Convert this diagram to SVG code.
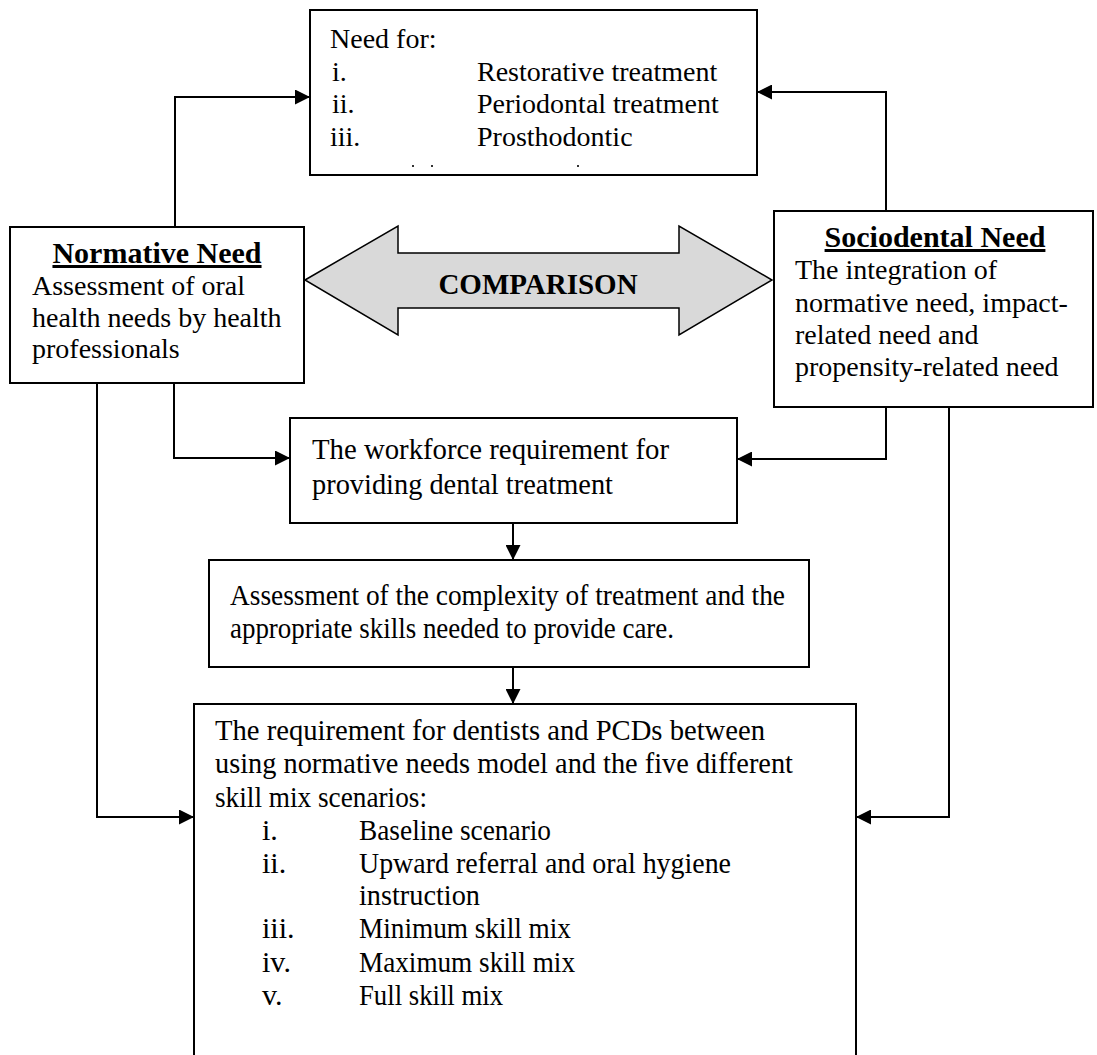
<svg xmlns="http://www.w3.org/2000/svg" width="1097" height="1055" viewBox="0 0 1097 1055">
  <style>
    .box { fill: #ffffff; stroke: #000000; stroke-width: 2; }
    .link { fill: none; stroke: #000000; stroke-width: 2; }
    .t { font-family: "Liberation Serif", "Times New Roman", serif; font-size: 28px; fill: #000000; }
    .h { font-family: "Liberation Serif", "Times New Roman", serif; font-size: 30px; font-weight: bold; fill: #000000; text-decoration: underline; }
    .c { font-family: "Liberation Serif", "Times New Roman", serif; font-size: 30px; fill: #000000; }
    .big { font-family: "Liberation Serif", "Times New Roman", serif; font-size: 29px; font-weight: bold; fill: #000000; }
  </style>
  <defs>
    <marker id="head" markerUnits="userSpaceOnUse" markerWidth="15" markerHeight="15" refX="15" refY="7.5" orient="auto">
      <path d="M0,0 L15,7.5 L0,15 Z" fill="#000000"/>
    </marker>
  </defs>

  <!-- connectors -->
  <g id="connectors">
    <path class="link" d="M175,227 V97 H310" marker-end="url(#head)"/>
    <path class="link" d="M886,211 V92 H757" marker-end="url(#head)"/>
    <path class="link" d="M174,383 V458 H290" marker-end="url(#head)"/>
    <path class="link" d="M886,407 V459 H737" marker-end="url(#head)"/>
    <path class="link" d="M513,523 V560" marker-end="url(#head)"/>
    <path class="link" d="M513,667 V704" marker-end="url(#head)"/>
    <path class="link" d="M97,383 V817 H194" marker-end="url(#head)"/>
    <path class="link" d="M949,407 V817 H856" marker-end="url(#head)"/>
  </g>

  <!-- treatment needs -->
  <g id="need-for">
    <rect class="box" x="310" y="10" width="447" height="165"/>
    <text class="t" x="330" y="48">Need for:</text>
    <text class="t" x="332" y="81">i.</text>
    <text class="t" x="477" y="81">Restorative treatment</text>
    <text class="t" x="332" y="113">ii.</text>
    <text class="t" x="477" y="113">Periodontal treatment</text>
    <text class="t" x="330" y="146">iii.</text>
    <text class="t" x="477" y="146">Prosthodontic</text>
    <rect x="412" y="165" width="2" height="2" fill="#333333"/>
    <rect x="431" y="165" width="2" height="2" fill="#333333"/>
    <rect x="577" y="165" width="2" height="2" fill="#333333"/>
  </g>

  <!-- normative need -->
  <g id="normative-need">
    <rect class="box" x="10" y="227" width="294" height="156"/>
    <text class="h" x="157" y="263" text-anchor="middle">Normative Need</text>
    <text class="t" x="32" y="295">Assessment of oral</text>
    <text class="t" x="32" y="327">health needs by health</text>
    <text class="t" x="32" y="358">professionals</text>
  </g>

  <!-- comparison double arrow -->
  <g id="comparison">
    <polygon points="305,280 398,226 398,253 679,253 679,226 772,280 679,335 679,308 398,308 398,335" fill="#d9d9d9" stroke="#000000" stroke-width="1.5" stroke-linejoin="miter"/>
    <text class="big" x="538" y="294" text-anchor="middle">COMPARISON</text>
  </g>

  <!-- sociodental need -->
  <g id="sociodental-need">
    <rect class="box" x="774" y="211" width="319" height="196"/>
    <text class="h" x="935" y="247" text-anchor="middle">Sociodental Need</text>
    <text class="t" x="795" y="279">The integration of</text>
    <text class="t" x="795" y="312">normative need, impact-</text>
    <text class="t" x="795" y="344">related need and</text>
    <text class="t" x="795" y="376">propensity-related need</text>
  </g>

  <!-- workforce requirement -->
  <g id="workforce">
    <rect class="box" x="290" y="418" width="447" height="105"/>
    <text class="c" x="312" y="459" textLength="357" lengthAdjust="spacingAndGlyphs">The workforce requirement for</text>
    <text class="c" x="312" y="494" textLength="301" lengthAdjust="spacingAndGlyphs">providing dental treatment</text>
  </g>

  <!-- complexity assessment -->
  <g id="complexity">
    <rect class="box" x="209" y="560" width="600" height="107"/>
    <text class="c" x="230" y="605" textLength="555" lengthAdjust="spacingAndGlyphs">Assessment of the complexity of treatment and the</text>
    <text class="c" x="230" y="638" textLength="444" lengthAdjust="spacingAndGlyphs">appropriate skills needed to provide care.</text>
  </g>

  <!-- dentist and PCD requirement -->
  <g id="requirement">
    <rect class="box" x="194" y="704" width="662" height="360"/>
    <text class="c" x="215" y="740" textLength="550" lengthAdjust="spacingAndGlyphs">The requirement for dentists and PCDs between</text>
    <text class="c" x="215" y="773" textLength="578" lengthAdjust="spacingAndGlyphs">using normative needs model and the five different</text>
    <text class="c" x="215" y="807" textLength="212" lengthAdjust="spacingAndGlyphs">skill mix scenarios:</text>
    <text class="c" x="262" y="840">i.</text>
    <text class="c" x="359" y="840" textLength="192" lengthAdjust="spacingAndGlyphs">Baseline scenario</text>
    <text class="c" x="262" y="873">ii.</text>
    <text class="c" x="359" y="873" textLength="372" lengthAdjust="spacingAndGlyphs">Upward referral and oral hygiene</text>
    <text class="c" x="359" y="905" textLength="121" lengthAdjust="spacingAndGlyphs">instruction</text>
    <text class="c" x="262" y="938">iii.</text>
    <text class="c" x="359" y="938" textLength="212" lengthAdjust="spacingAndGlyphs">Minimum skill mix</text>
    <text class="c" x="262" y="972">iv.</text>
    <text class="c" x="359" y="972" textLength="216" lengthAdjust="spacingAndGlyphs">Maximum skill mix</text>
    <text class="c" x="262" y="1005">v.</text>
    <text class="c" x="359" y="1005" textLength="144" lengthAdjust="spacingAndGlyphs">Full skill mix</text>
  </g>
</svg>
